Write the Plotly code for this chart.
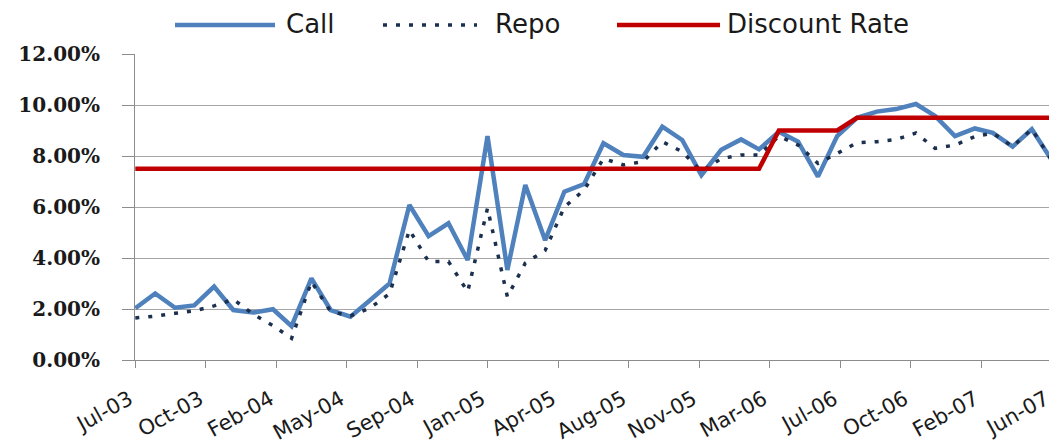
import pandas as pd
import plotly.graph_objects as go

months = pd.date_range("2003-07-01", "2007-06-01", freq="MS")

call = [2.03, 2.61, 2.05, 2.14, 2.88, 1.96, 1.86, 1.99, 1.33, 3.20, 1.96, 1.70,
        2.33, 3.00, 6.08, 4.86, 5.36, 3.92, 8.78, 3.53, 6.86, 4.70, 6.60, 6.90,
        8.50, 8.04, 7.97, 9.15, 8.63, 7.25, 8.24, 8.65, 8.26, 8.95, 8.56, 7.19,
        8.78, 9.50, 9.74, 9.84, 10.04, 9.57, 8.78, 9.08, 8.91, 8.37, 9.05, 7.84]

repo = [1.65, 1.72, 1.83, 1.93, 2.12, 2.38, 1.80, 1.35, 0.85, 3.07, 1.90, 1.73,
        2.03, 2.60, 5.10, 3.86, 3.86, 2.68, 5.95, 2.48, 3.80, 4.30, 6.00, 6.67,
        7.90, 7.65, 7.78, 8.56, 8.17, 7.39, 7.90, 8.04, 8.04, 8.78, 8.43, 7.71,
        8.10, 8.52, 8.56, 8.65, 8.90, 8.30, 8.43, 8.76, 8.90, 8.37, 9.05, 7.84]

discount = [7.5] * 33 + [9.0] * 4 + [9.5] * 11

tick_labels = ["Jul-03", "Oct-03", "Feb-04", "May-04", "Sep-04", "Jan-05", "Apr-05",
               "Aug-05", "Nov-05", "Mar-06", "Jul-06", "Oct-06", "Feb-07", "Jun-07"]

y_ticks = [0, 2, 4, 6, 8, 10, 12]

series_names = ["Call", "Repo", "Discount Rate"]
series_colors = ["#4F81BD", "#1B2F4F", "#C00000"]

# the page body has an 8px margin, so the figure is 8px smaller than the window
PAGE = 8
W, H = 1057 - PAGE, 446 - PAGE
ML, MR, MT, MB = 135 - PAGE, 5, 54 - PAGE, 86
PW, PH = W - ML - MR, H - MT - MB


def px_x(x):
    return (x - PAGE - ML) / PW


def px_y(y):
    return (H - MB - (y - PAGE)) / PH


tick_positions = pd.date_range(months[0], months[-1], periods=len(tick_labels))

fig = go.Figure()
fig.add_trace(go.Scatter(x=months, y=[v / 100 for v in call], name=series_names[0], mode="lines",
                         line=dict(color=series_colors[0], width=4.5)))
fig.add_trace(go.Scatter(x=months, y=[v / 100 for v in repo], name=series_names[1], mode="lines",
                         line=dict(color=series_colors[1], width=3.5, dash="4px,9px")))
fig.add_trace(go.Scatter(x=months, y=[v / 100 for v in discount], name=series_names[2], mode="lines",
                         line=dict(color=series_colors[2], width=4.5)))

# legend drawn at the top, as in the original
legend_lines = [(175, 275, "solid", 4.5), (383, 477, "4px,9px", 3.5), (617, 720, "solid", 4.5)]
legend_text_x = [284, 493, 725]
shapes, annotations = [], []
for (x0, x1, dash, w), color, name, tx in zip(legend_lines, series_colors, series_names, legend_text_x):
    shapes.append(dict(type="line", xref="paper", yref="paper",
                       x0=px_x(x0), x1=px_x(x1), y0=px_y(25), y1=px_y(25),
                       line=dict(color=color, width=w, dash=dash)))
    annotations.append(dict(xref="paper", yref="paper", x=px_x(tx), y=px_y(24),
                            xanchor="left", yanchor="middle", showarrow=False, text=name,
                            font=dict(family="DejaVu Sans", size=26, color="#1a1a1a")))

fig.update_layout(
    width=W, height=H,
    margin=dict(l=ML, r=MR, t=MT, b=MB, autoexpand=False),
    paper_bgcolor="white", plot_bgcolor="white",
    showlegend=False,
    shapes=shapes, annotations=annotations,
)

half_day = pd.Timedelta(hours=12)
fig.update_xaxes(
    type="date",
    range=[months[0] - half_day, months[-1] + half_day],
    tickmode="array", tickvals=list(tick_positions), ticktext=tick_labels,
    tickangle=-29,
    ticks="outside", ticklen=7, tickcolor="#8C8C8C", tickwidth=1,
    showline=True, linecolor="#8C8C8C", linewidth=1,
    showgrid=False, zeroline=False, automargin=False,
    ticklabelstandoff=11, ticklabelshift=-6, ticklabeloverflow="allow",
    tickfont=dict(family="DejaVu Sans", size=21, color="#1a1a1a"),
)

fig.update_yaxes(
    range=[0, 0.12],
    tickmode="array", tickvals=[v / 100 for v in y_ticks],
    tickformat=".2%",
    ticks="outside", ticklen=12, tickcolor="#8C8C8C", tickwidth=1,
    showline=True, linecolor="#8C8C8C", linewidth=1,
    showgrid=True, gridcolor="#A6A6A6", gridwidth=1,
    zeroline=False, automargin=False,
    ticklabelstandoff=18,
    tickfont=dict(family="DejaVu Serif", size=20, color="#1a1a1a", weight="bold"),
)

fig.write_html("out.html")
